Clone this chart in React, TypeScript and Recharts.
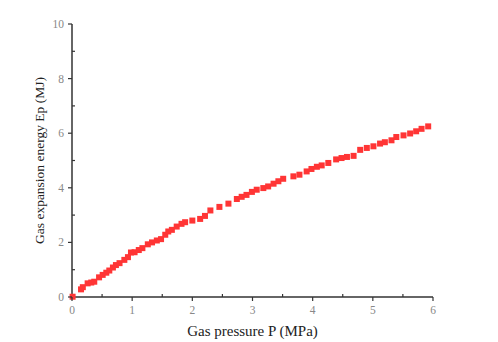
import React from 'react';
import { ScatterChart, Scatter, XAxis, YAxis } from 'recharts';

// Gas pressure P (MPa) vs. gas expansion energy Ep (MJ)
const PRESSURE = [
  0.01, 0.15, 0.18, 0.26, 0.32, 0.37, 0.45, 0.51, 0.57, 0.62, 0.68, 0.73, 0.79,
  0.87, 0.93, 0.98, 1.04, 1.11, 1.17, 1.26, 1.33, 1.41, 1.48, 1.55, 1.60, 1.66,
  1.74, 1.82, 1.88, 2.0, 2.13, 2.21, 2.30, 2.45, 2.60, 2.74, 2.82, 2.90, 2.99,
  3.07, 3.18, 3.26, 3.35, 3.43, 3.51, 3.68, 3.78, 3.90, 3.98, 4.07, 4.15, 4.26,
  4.39, 4.48, 4.57, 4.68, 4.79, 4.90, 5.01, 5.12, 5.20, 5.31, 5.39, 5.51, 5.62,
  5.72, 5.81, 5.92,
];
const ENERGY = [
  0.01, 0.28, 0.36, 0.5, 0.53, 0.56, 0.72, 0.81, 0.89, 0.97, 1.08, 1.17, 1.24,
  1.36, 1.46, 1.63, 1.64, 1.72, 1.79, 1.93, 2.0, 2.07, 2.12, 2.28, 2.4, 2.46,
  2.58, 2.68, 2.74, 2.8, 2.86, 2.97, 3.17, 3.3, 3.42, 3.59, 3.67, 3.74, 3.85,
  3.93, 3.99, 4.05, 4.15, 4.24, 4.33, 4.42, 4.48, 4.6, 4.69, 4.77, 4.82, 4.91,
  5.04, 5.09, 5.13, 5.17, 5.39, 5.46, 5.52, 5.62, 5.67, 5.74, 5.86, 5.92, 5.99,
  6.07, 6.16, 6.25,
];
const X_TICKS = [0, 0.5, 1, 1.5, 2, 2.5, 3, 3.5, 4, 4.5, 5, 5.5, 6];
const Y_TICKS = [0, 1, 2, 3, 4, 5, 6, 7, 8, 9, 10];

const points = PRESSURE.map((p, i) => ({ p, e: ENERGY[i] }));

const FONT = '"Liberation Serif", "Times New Roman", serif';
const AXIS = '#333';

// major ticks point out with a label, minor ticks point in
const XTick = (props: any) => {
  const { x, y, payload } = props;
  const major = Number.isInteger(payload.value);
  return (
    <g>
      <line x1={x} x2={x} y1={y} y2={major ? y + 4 : y - 3} stroke={AXIS} strokeWidth={1.2} />
      {major && (
        <text x={x} y={y + 17} textAnchor="middle" fill="#888" fontSize={11.5} fontFamily={FONT}>
          {payload.value}
        </text>
      )}
    </g>
  );
};

const YTick = (props: any) => {
  const { x, y, payload } = props;
  const major = payload.value % 2 === 0;
  return (
    <g>
      <line x1={x} x2={major ? x - 4 : x + 3} y1={y} y2={y} stroke={AXIS} strokeWidth={1.2} />
      {major && (
        <text x={x - 8} y={y + 4} textAnchor="end" fill="#888" fontSize={11.5} fontFamily={FONT}>
          {payload.value}
        </text>
      )}
    </g>
  );
};

const Square = (props: any) => {
  const { cx, cy } = props;
  return <rect x={cx - 3} y={cy - 3} width={6} height={6} fill="#ff3535" />;
};

export default function App() {
  return (
    <div style={{ position: 'absolute', left: 0, top: 0, background: '#fff' }}>
      <ScatterChart width={498} height={342} margin={{ top: 24, right: 65, bottom: 0, left: 12 }}>
        <XAxis
          type="number"
          dataKey="p"
          domain={[0, 6]}
          ticks={X_TICKS}
          interval={0}
          height={45}
          tickLine={false}
          tickSize={0}
          tickMargin={0}
          tick={<XTick />}
          stroke={AXIS}
          strokeWidth={1.5}
          label={{
            value: 'Gas pressure P (MPa)',
            position: 'insideBottom',
            offset: 6,
            fill: '#222',
            fontSize: 15,
            fontFamily: FONT,
          }}
        />
        <YAxis
          type="number"
          dataKey="e"
          domain={[0, 10]}
          ticks={Y_TICKS}
          interval={0}
          width={60}
          tickLine={false}
          tickSize={0}
          tickMargin={0}
          tick={<YTick />}
          stroke={AXIS}
          strokeWidth={1.5}
          label={{
            value: 'Gas expansion energy Ep (MJ)',
            angle: -90,
            position: 'insideLeft',
            offset: 27,
            style: { textAnchor: 'middle' },
            fill: '#222',
            fontSize: 13.5,
            fontFamily: FONT,
          }}
        />
        <Scatter data={points} shape={<Square />} isAnimationActive={false} />
      </ScatterChart>
    </div>
  );
}
